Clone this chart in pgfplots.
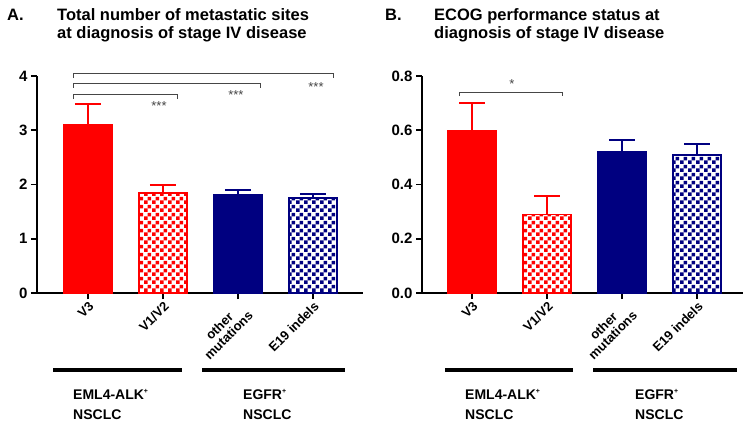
\documentclass[border=0pt]{standalone}
\usepackage{fontspec}
\setmainfont{Liberation Sans}
\usepackage{pgfplots}
\pgfplotsset{compat=1.18}
\usetikzlibrary{patterns.meta}
\definecolor{bred}{RGB}{255,0,0}
\definecolor{bnavy}{RGB}{0,0,128}
\definecolor{brk}{RGB}{70,70,70}
\tikzdeclarepattern{name=checker, type=uncolored, bottom left={(0pt,0pt)}, top right={(8pt,8pt)}, tile size={(8pt,8pt)},
  code={\fill (0pt,0pt) rectangle (4pt,4pt); \fill (4pt,4pt) rectangle (8pt,8pt);}}
\pgfplotsset{
  mystyle/.style={
    scale only axis, axis lines=left, axis line style={-, line width=1.8pt},
    clip=false, ymin=0, height=217pt,
    xtick={0,1,2,3}, xticklabels={V3,V1/V2,{other\\mutations},E19 indels},
    tick style={line width=1.8pt, black}, major tick length=6pt, tick align=outside,
    xticklabel style={rotate=45, anchor=north east, align=center, font=\bfseries\fontsize{13}{13}\selectfont, inner sep=1pt},
    yticklabel style={font=\bfseries\fontsize{15}{15}\selectfont},
    /pgf/number format/assume math mode=true,
    bar width=48pt,
  },
  redbar/.style={ybar, bar shift=0pt, fill=bred, draw=bred, line width=1.5pt,
    error bars/.cd, y dir=plus, y explicit, error bar style={line width=2pt, bred},
    error mark options={rotate=90, line width=2pt, bred, mark size=13pt}},
  redpat/.style={ybar, bar shift=0pt, pattern=checker, pattern color=bred, draw=bred, line width=1.5pt,
    error bars/.cd, y dir=plus, y explicit, error bar style={line width=2pt, bred},
    error mark options={rotate=90, line width=2pt, bred, mark size=13pt}},
  navybar/.style={ybar, bar shift=0pt, fill=bnavy, draw=bnavy, line width=1.5pt,
    error bars/.cd, y dir=plus, y explicit, error bar style={line width=2pt, bnavy},
    error mark options={rotate=90, line width=2pt, bnavy, mark size=13pt}},
  navypat/.style={ybar, bar shift=0pt, pattern=checker, pattern color=bnavy, draw=bnavy, line width=1.5pt,
    error bars/.cd, y dir=plus, y explicit, error bar style={line width=2pt, bnavy},
    error mark options={rotate=90, line width=2pt, bnavy, mark size=13pt}},
  brack/.style={brk, line width=0.8pt, sharp plot, mark=none, forget plot},
}
\begin{document}
\begin{tikzpicture}[font=\bfseries]
\path[use as bounding box] (0,0) rectangle (753pt,-428pt);
% Titles
\node[anchor=base west, font=\bfseries\fontsize{16.5}{16.5}\selectfont, inner sep=0pt] at (7pt,-21pt) {A.};
\node[anchor=base west, font=\bfseries\fontsize{16.5}{16.5}\selectfont, inner sep=0pt] at (57pt,-21pt) {Total number of metastatic sites};
\node[anchor=base west, font=\bfseries\fontsize{16.5}{16.5}\selectfont, inner sep=0pt] at (57pt,-39pt) {at diagnosis of stage IV disease};
\node[anchor=base west, font=\bfseries\fontsize{16.5}{16.5}\selectfont, inner sep=0pt] at (385pt,-21pt) {B.};
\node[anchor=base west, font=\bfseries\fontsize{16.5}{16.5}\selectfont, inner sep=0pt] at (434pt,-21pt) {ECOG performance status at};
\node[anchor=base west, font=\bfseries\fontsize{16.5}{16.5}\selectfont, inner sep=0pt] at (434pt,-39pt) {diagnosis of stage IV disease};

% Panel A
\begin{axis}[mystyle, at={(37pt,-293pt)}, anchor=south west, width=326pt,
  xmin=-0.68, xmax=3.667, ymax=4, ytick={0,1,2,3,4}]
\addplot[redbar] coordinates {(0,3.11) +- (0,0.37)};
\addplot[redpat] coordinates {(1,1.84) +- (0,0.16)};
\addplot[navybar] coordinates {(2,1.82) +- (0,0.08)};
\addplot[navypat] coordinates {(3,1.75) +- (0,0.08)};
\addplot[brack] coordinates {(-0.2,3.963) (-0.2,4.055) (3.267,4.055) (3.267,3.963)};
\addplot[brack] coordinates {(-0.2,3.779) (-0.2,3.871) (2.293,3.871) (2.293,3.779)};
\addplot[brack] coordinates {(-0.2,3.576) (-0.2,3.668) (1.187,3.668) (1.187,3.576)};
\node[font=\fontsize{13}{13}\selectfont, text=brk] at (axis cs:0.947,3.44) {***};
\node[font=\fontsize{13}{13}\selectfont, text=brk] at (axis cs:1.973,3.645) {***};
\node[font=\fontsize{13}{13}\selectfont, text=brk] at (axis cs:3.04,3.795) {***};
\end{axis}

% Panel B
\begin{axis}[mystyle, at={(422pt,-293pt)}, anchor=south west, width=321pt,
  xmin=-0.667, xmax=3.613, ymax=0.8, ytick={0,0.2,0.4,0.6,0.8},
  yticklabel style={/pgf/number format/.cd, fixed, fixed zerofill, precision=1}]
\addplot[redbar] coordinates {(0,0.60) +- (0,0.10)};
\addplot[redpat] coordinates {(1,0.29) +- (0,0.067)};
\addplot[navybar] coordinates {(2,0.52) +- (0,0.044)};
\addplot[navypat] coordinates {(3,0.508) +- (0,0.04)};
\addplot[brack] coordinates {(-0.173,0.726) (-0.173,0.74) (1.2,0.74) (1.2,0.726)};
\node[font=\fontsize{13}{13}\selectfont, text=brk] at (axis cs:0.533,0.77) {*};
\end{axis}

% group lines and labels
\draw[line width=3.5pt] (53pt,-370pt) -- (182pt,-370pt);
\draw[line width=3.5pt] (202pt,-370pt) -- (345pt,-370pt);
\draw[line width=3.5pt] (445pt,-370pt) -- (573pt,-370pt);
\draw[line width=3.5pt] (593pt,-370pt) -- (737pt,-370pt);
\begin{scope}[every node/.style={anchor=base west, inner sep=0pt, font=\bfseries\fontsize{14}{14}\selectfont}]
\node at (73pt,-399pt) {EML4-ALK\textsuperscript{\scriptsize +}};
\node at (73pt,-419pt) {NSCLC};
\node at (243pt,-399pt) {EGFR\textsuperscript{\scriptsize +}};
\node at (243pt,-419pt) {NSCLC};
\node at (465pt,-399pt) {EML4-ALK\textsuperscript{\scriptsize +}};
\node at (465pt,-419pt) {NSCLC};
\node at (635pt,-399pt) {EGFR\textsuperscript{\scriptsize +}};
\node at (635pt,-419pt) {NSCLC};
\end{scope}
\end{tikzpicture}
\end{document}
